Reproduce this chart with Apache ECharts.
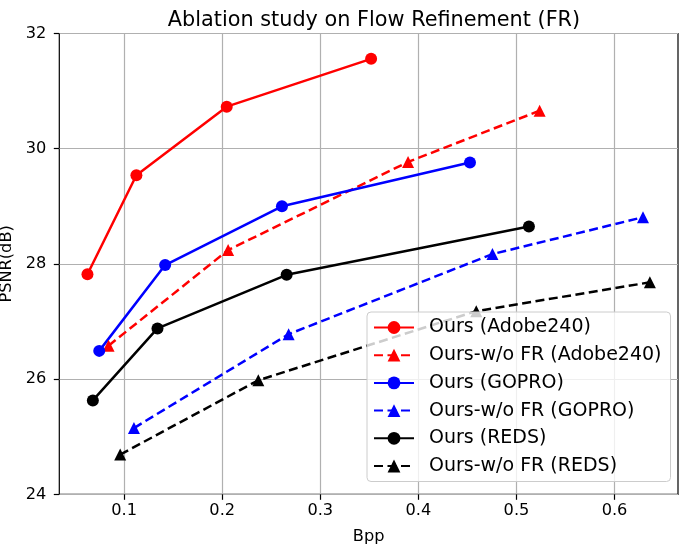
<!DOCTYPE html>
<html lang="en">
<head>
  <meta charset="UTF-8">
  <title>Ablation study on Flow Refinement (FR)</title>
  <script src="https://cdn.jsdelivr.net/npm/echarts@6/dist/echarts.min.js"></script>
  <style>
    html, body { margin: 0; padding: 0; background: #fff; }
    #chart { width: 685px; height: 548px; }
  </style>
</head>
<body>
<div id="chart"></div>
<script>
  // data: [bpp, psnr]
  var oursAdobe = [[0.0626, 27.82], [0.1125, 29.54], [0.2046, 30.73], [0.3518, 31.56]];
  var woAdobe = [[0.0841, 26.58], [0.2060, 28.24], [0.3895, 29.77], [0.5236, 30.66]];
  var oursGopro = [[0.0746, 26.49], [0.1418, 27.98], [0.2609, 29.00], [0.4526, 29.76]];
  var woGopro = [[0.1100, 25.15], [0.2677, 26.78], [0.4755, 28.17], [0.6290, 28.81]];
  var oursReds = [[0.0681, 25.63], [0.1340, 26.88], [0.2657, 27.81], [0.5127, 28.65]];
  var woReds = [[0.0960, 24.69], [0.2368, 25.98], [0.4590, 27.18], [0.6360, 27.68]];

  var xTicks = [0.1, 0.2, 0.3, 0.4, 0.5, 0.6];
  var names = ['Ours (Adobe240)', 'Ours-w/o FR (Adobe240)', 'Ours (GOPRO)',
    'Ours-w/o FR (GOPRO)', 'Ours (REDS)', 'Ours-w/o FR (REDS)'];

  var font = 'DejaVu Sans';

  function makeSeries(name, data, color, dashed) {
    return {
      name: name,
      type: 'line',
      data: data,
      symbol: dashed ? 'triangle' : 'circle',
      symbolSize: 12,
      showSymbol: true,
      animation: false,
      itemStyle: { color: color },
      lineStyle: { color: color, width: 2.5, type: dashed ? [9, 4.5] : 'solid' }
    };
  }

  var myChart = echarts.init(document.getElementById('chart'));
  var option = {
    backgroundColor: '#fff',
    animation: false,
    title: {
      text: 'Ablation study on Flow Refinement (FR)',
      left: 369,
      top: 5,
      textAlign: 'center',
      textStyle: { fontFamily: font, fontSize: 20.8, fontWeight: 'normal', color: '#000' }
    },
    legend: {
      data: names,
      orient: 'vertical',
      left: 367,
      top: 312,
      padding: [6, 9, 6, 6],
      itemWidth: 40,
      itemHeight: 16,
      itemGap: 8.7,
      backgroundColor: 'rgba(255,255,255,0.8)',
      borderColor: '#cccccc',
      borderWidth: 1,
      borderRadius: 4,
      textStyle: { fontFamily: font, fontSize: 19, lineHeight: 19, color: '#000', padding: [0, 0, 0, 10] }
    },
    grid: {
      left: 59.3,
      right: 7,
      top: 33.5,
      bottom: 53.7,
      outerBoundsMode: 'none',
      containLabel: false,
      show: true,
      borderColor: '#000',
      borderWidth: 1.2,
      backgroundColor: 'transparent'
    },
    xAxis: {
      type: 'value',
      min: 0.0339,
      max: 0.6647,
      name: 'Bpp',
      nameLocation: 'middle',
      nameGap: 34,
      nameTextStyle: { fontFamily: font, fontSize: 16.2, color: '#000' },
      axisLine: { show: false },
      axisTick: { show: true, inside: false, length: 5.5, customValues: xTicks,
        lineStyle: { color: '#000', width: 1.2 } },
      axisLabel: { customValues: xTicks, margin: 8, fontFamily: font, fontSize: 16.2, color: '#000',
        formatter: function (v) { return v.toFixed(1); } },
      splitLine: { show: true, lineStyle: { color: '#b0b0b0', width: 1.2 } }
    },
    yAxis: {
      type: 'value',
      min: 24,
      max: 32,
      interval: 2,
      name: 'PSNR(dB)',
      nameLocation: 'middle',
      nameGap: 40,
      nameTextStyle: { fontFamily: font, fontSize: 16.2, color: '#000' },
      axisLine: { show: false },
      axisTick: { show: true, inside: false, length: 5.5, lineStyle: { color: '#000', width: 1.2 } },
      axisLabel: { margin: 13, fontFamily: font, fontSize: 16.2, color: '#000' },
      splitLine: { show: true, lineStyle: { color: '#b0b0b0', width: 1.2 } }
    },
    series: [
      makeSeries(names[0], oursAdobe, '#ff0000', false),
      makeSeries(names[1], woAdobe, '#ff0000', true),
      makeSeries(names[2], oursGopro, '#0000ff', false),
      makeSeries(names[3], woGopro, '#0000ff', true),
      makeSeries(names[4], oursReds, '#000000', false),
      makeSeries(names[5], woReds, '#000000', true)
    ]
  };

  option && myChart.setOption(option);
</script>
</body>
</html>
